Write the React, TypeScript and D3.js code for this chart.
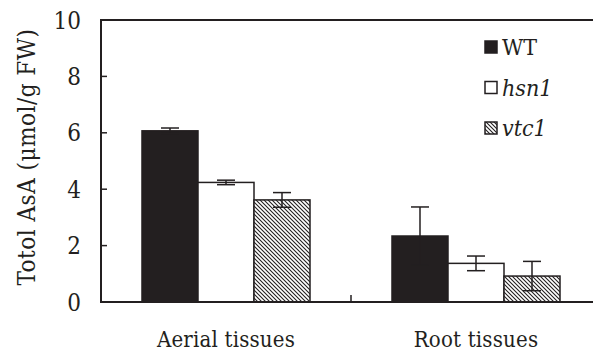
import React from "react";
import * as d3 from "d3";

const categories = ["Aerial tissues", "Root tissues"];
const seriesNames = ["WT", "hsn1", "vtc1"];
const wtValues = [6.07, 2.34];
const wtErrors = [0.1, 1.03];
const hsn1Values = [4.24, 1.37];
const hsn1Errors = [0.08, 0.26];
const vtc1Values = [3.62, 0.92];
const vtc1Errors = [0.26, 0.52];
const yTicks = [0, 2, 4, 6, 8, 10];

const W = 593;
const H = 358;
const margin = { left: 101, top: 20, bottom: 302, right: 601 };
const INK = "#231f20";
const FONT = "DejaVu Serif Condensed, DejaVu Serif, serif";

const series = [
  { name: seriesNames[0], values: wtValues, errors: wtErrors, fill: INK, italic: false },
  { name: seriesNames[1], values: hsn1Values, errors: hsn1Errors, fill: "#ffffff", italic: true },
  { name: seriesNames[2], values: vtc1Values, errors: vtc1Errors, fill: "url(#hatch)", italic: true },
];

export default function App() {
  const x0 = d3.scaleBand<string>().domain(categories).range([margin.left, margin.right]).padding(0);
  const x1 = d3
    .scaleBand<string>()
    .domain(seriesNames)
    .range([0, x0.bandwidth()])
    .paddingInner(0)
    .paddingOuter(0.732);
  const y = d3.scaleLinear().domain([0, 10]).range([margin.bottom, margin.top]);
  const capW = 9;
  const ts = { fontFamily: FONT, fontStretch: "condensed" as const };

  return (
    <svg width={W} height={H} style={{ position: "absolute", left: 0, top: 0, background: "#fff" }}>
      <defs>
        <pattern id="hatch" patternUnits="userSpaceOnUse" width={4} height={4}>
          <rect width={4} height={4} fill="#fff" />
          <path d="M-1,-1 L5,5 M-1,3 L1,5 M3,-1 L5,1" stroke={INK} strokeWidth={1.1} />
        </pattern>
      </defs>
      {categories.map((c, ci) =>
        series.map((s) => {
          const bx = (x0(c) as number) + (x1(s.name) as number);
          const bw = x1.bandwidth();
          const v = s.values[ci];
          return (
            <rect key={c + s.name} x={bx} y={y(v)} width={bw} height={y(0) - y(v)} fill={s.fill} stroke={INK} strokeWidth={1.5} />
          );
        })
      )}
      {categories.map((c, ci) =>
        series.map((s) => {
          const cx = (x0(c) as number) + (x1(s.name) as number) + x1.bandwidth() / 2;
          const v = s.values[ci];
          const e = s.errors[ci];
          return (
            <g key={"e" + c + s.name} stroke={INK} strokeWidth={1.5}>
              <line x1={cx} x2={cx} y1={y(v + e)} y2={y(v - e)} />
              <line x1={cx - capW} x2={cx + capW} y1={y(v + e)} y2={y(v + e)} />
              <line x1={cx - capW} x2={cx + capW} y1={y(v - e)} y2={y(v - e)} />
            </g>
          );
        })
      )}
      <line x1={margin.left} x2={W} y1={margin.top} y2={margin.top} stroke={INK} strokeWidth={2} />
      <line x1={margin.left} x2={margin.left} y1={margin.top - 1} y2={margin.bottom + 1} stroke={INK} strokeWidth={2} />
      <line x1={margin.left - 1} x2={W} y1={margin.bottom} y2={margin.bottom} stroke={INK} strokeWidth={2} />
      {yTicks.map((t) => (
        <g key={t}>
          {t > 0 && t < 10 && (
            <line x1={margin.left} x2={margin.left + 6} y1={y(t)} y2={y(t)} stroke={INK} strokeWidth={1.5} />
          )}
          <text x={81} y={y(t)} dy="0.36em" textAnchor="end" style={ts} fontSize={24} fill={INK}>
            {t}
          </text>
        </g>
      ))}
      {categories.slice(1).map((c) => (
        <line key={"sep" + c} x1={x0(c) as number} x2={x0(c) as number} y1={margin.bottom} y2={margin.bottom - 7} stroke={INK} strokeWidth={1.5} />
      ))}
      {categories.map((c) => (
        <text key={"l" + c} x={(x0(c) as number) + x0.bandwidth() / 2} y={347} textAnchor="middle" style={ts} fontSize={22} letterSpacing={0.2} fill={INK}>
          {c}
        </text>
      ))}
      <text
        transform={`translate(35,157) rotate(-90)`}
        textAnchor="middle"
        style={ts}
        fontSize={24}
        letterSpacing={0.5}
        fill={INK}
      >
        Totol AsA (μmol/g FW)
      </text>
      {series.map((s, i) => {
        const cy = 47 + i * 40.5;
        return (
          <g key={"lg" + s.name}>
            <rect x={485} y={cy - 6} width={12} height={12} fill={s.fill} stroke={INK} strokeWidth={1.5} />
            <text x={502} y={cy} dy="0.36em" style={ts} fontSize={23} fontStyle={s.italic ? "italic" : "normal"} fill={INK}>
              {s.name}
            </text>
          </g>
        );
      })}
    </svg>
  );
}
